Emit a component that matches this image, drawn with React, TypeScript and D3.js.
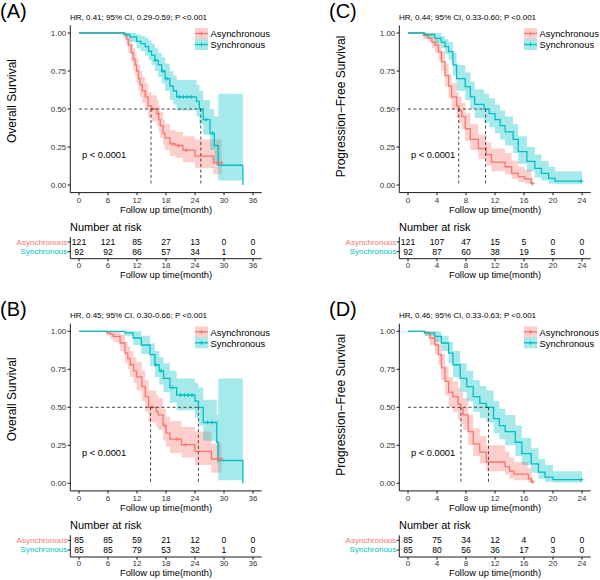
import React from 'react';
import * as d3 from 'd3';

const RED = '#F8766D';
const TEAL = '#00BFC4';
const FONT = "'Liberation Sans', Arial, Helvetica, sans-serif";

const groupNames = ['Asynchronous', 'Synchronous'];

// ---------- Panel A: Overall survival ----------
const aAsyncTime = [0, 9.2, 9.8, 10.2, 10.8, 11.2, 11.6, 11.9, 12.3, 12.6, 13.1, 13.7, 14.3, 15.0, 16.1, 16.5, 16.8, 17.4, 17.8, 18.8, 20.0, 21.5, 24.0, 27.8];
const aAsyncSurv = [1, 0.99, 0.96, 0.92, 0.87, 0.83, 0.79, 0.75, 0.70, 0.66, 0.62, 0.58, 0.52, 0.50, 0.47, 0.43, 0.39, 0.34, 0.31, 0.27, 0.26, 0.23, 0.19, 0.145];
const aAsyncLower = [1, 0.97, 0.92, 0.87, 0.81, 0.76, 0.72, 0.67, 0.62, 0.58, 0.54, 0.50, 0.44, 0.42, 0.39, 0.35, 0.31, 0.26, 0.23, 0.19, 0.18, 0.15, 0.11, 0.07];
const aAsyncUpper = [1, 1, 0.99, 0.97, 0.93, 0.90, 0.87, 0.83, 0.79, 0.75, 0.71, 0.67, 0.61, 0.59, 0.56, 0.52, 0.48, 0.43, 0.40, 0.36, 0.35, 0.32, 0.30, 0.30];
const aAsyncEnd = 29.5;
const aAsyncCensor = [15.3, 16.3, 19.4, 20.6, 22.2, 28.6, 29.5];

const aSyncTime = [0, 9.5, 10.5, 11.9, 12.8, 13.7, 14.4, 15.0, 15.7, 16.4, 17.1, 17.8, 18.8, 19.5, 20.2, 24.3, 24.9, 25.7, 27.1, 28.0, 28.8, 33.9];
const aSyncSurv = [1, 0.99, 0.975, 0.945, 0.93, 0.91, 0.88, 0.855, 0.82, 0.79, 0.75, 0.70, 0.65, 0.62, 0.58, 0.55, 0.50, 0.43, 0.34, 0.26, 0.13, 0];
const aSyncLower = [1, 0.97, 0.94, 0.90, 0.88, 0.85, 0.82, 0.79, 0.75, 0.71, 0.67, 0.62, 0.56, 0.53, 0.49, 0.45, 0.40, 0.33, 0.23, 0.15, 0.03, 0];
const aSyncUpper = [1, 1, 1, 0.99, 0.98, 0.97, 0.95, 0.93, 0.90, 0.87, 0.84, 0.80, 0.75, 0.72, 0.69, 0.66, 0.62, 0.56, 0.50, 0.45, 0.60, 0];
const aSyncEnd = 33.9;
const aSyncCensor = [15.8, 17.3, 18.2, 20.8, 21.6, 22.4, 23.2, 26.3, 27.6];

const aMedians = [14.9, 25.2];
const aRiskAsync = [121, 121, 85, 27, 13, 0, 0];
const aRiskSync = [92, 92, 86, 57, 34, 1, 0];

// ---------- Panel B: Overall survival (matched) ----------
const bAsyncTime = [0, 5.7, 6.5, 7.1, 8.5, 9.5, 10.1, 10.6, 11.3, 11.9, 13.0, 13.7, 14.4, 16.0, 16.4, 17.4, 18.0, 18.8, 21.2, 24.0, 27.4];
const bAsyncSurv = [1, 0.99, 0.98, 0.967, 0.923, 0.857, 0.82, 0.78, 0.74, 0.70, 0.636, 0.57, 0.50, 0.47, 0.45, 0.38, 0.33, 0.29, 0.254, 0.21, 0.16];
const bAsyncLower = [1, 0.97, 0.95, 0.93, 0.87, 0.79, 0.75, 0.70, 0.66, 0.61, 0.54, 0.47, 0.40, 0.37, 0.35, 0.28, 0.24, 0.20, 0.17, 0.12, 0.07];
const bAsyncUpper = [1, 1, 1, 1, 0.98, 0.93, 0.90, 0.87, 0.83, 0.80, 0.74, 0.68, 0.61, 0.58, 0.56, 0.49, 0.44, 0.41, 0.37, 0.34, 0.26];
const bAsyncEnd = 29.5;
const bAsyncCensor = [15.1, 17.8, 20.3, 22.0, 28.8, 29.5];

const bSyncTime = [0, 9.5, 11.2, 12.9, 14.7, 15.7, 16.6, 17.5, 18.8, 20.2, 24.0, 24.7, 25.7, 28.5, 28.8, 33.9];
const bSyncSurv = [1, 0.99, 0.956, 0.91, 0.846, 0.78, 0.74, 0.69, 0.63, 0.58, 0.54, 0.50, 0.40, 0.27, 0.15, 0];
const bSyncLower = [1, 0.97, 0.91, 0.85, 0.77, 0.70, 0.65, 0.60, 0.53, 0.48, 0.43, 0.38, 0.28, 0.13, 0.02, 0];
const bSyncUpper = [1, 1, 1, 0.97, 0.92, 0.87, 0.83, 0.79, 0.74, 0.69, 0.66, 0.63, 0.55, 0.45, 0.69, 0];
const bSyncEnd = 33.9;
const bSyncCensor = [15.9, 17.0, 19.3, 21.0, 21.8, 22.6, 23.4, 26.6, 27.5];

const bMedians = [14.8, 24.7];
const bRiskAsync = [85, 85, 59, 21, 12, 0, 0];
const bRiskSync = [85, 85, 79, 53, 32, 1, 0];

// ---------- Panel C: Progression-free survival ----------
const cAsyncTime = [0, 2.1, 2.8, 3.3, 3.7, 4.2, 4.6, 5.1, 5.6, 6.0, 6.7, 7.0, 7.4, 7.9, 8.6, 9.7, 10.8, 11.5, 13.4, 14.3, 15.2, 16.1, 17.0];
const cAsyncSurv = [1, 0.985, 0.965, 0.94, 0.92, 0.877, 0.81, 0.72, 0.65, 0.58, 0.52, 0.49, 0.45, 0.37, 0.30, 0.24, 0.20, 0.15, 0.12, 0.077, 0.055, 0.04, 0.01];
const cAsyncLower = [1, 0.96, 0.94, 0.90, 0.87, 0.82, 0.75, 0.65, 0.57, 0.50, 0.44, 0.41, 0.37, 0.29, 0.23, 0.17, 0.13, 0.09, 0.07, 0.04, 0.02, 0.01, 0];
const cAsyncUpper = [1, 1, 0.99, 0.98, 0.96, 0.93, 0.88, 0.80, 0.73, 0.67, 0.61, 0.58, 0.54, 0.47, 0.40, 0.33, 0.28, 0.24, 0.21, 0.16, 0.12, 0.10, 0.05];
const cAsyncEnd = 17.2;
const cAsyncCensor = [17.2];

const cSyncTime = [0, 2.3, 3.7, 4.6, 5.1, 5.6, 6.2, 6.7, 7.9, 8.6, 9.2, 10.5, 11.2, 12.0, 12.7, 13.4, 14.5, 15.2, 16.4, 17.5, 18.4, 19.4, 20.3];
const cSyncSurv = [1, 0.99, 0.965, 0.94, 0.91, 0.877, 0.79, 0.70, 0.647, 0.58, 0.53, 0.50, 0.47, 0.43, 0.39, 0.35, 0.30, 0.22, 0.155, 0.11, 0.077, 0.044, 0.026];
const cSyncLower = [1, 0.97, 0.93, 0.90, 0.86, 0.82, 0.72, 0.62, 0.56, 0.50, 0.44, 0.41, 0.38, 0.34, 0.30, 0.26, 0.21, 0.14, 0.09, 0.05, 0.03, 0.01, 0.005];
const cSyncUpper = [1, 1, 1, 0.98, 0.96, 0.94, 0.87, 0.79, 0.74, 0.68, 0.63, 0.60, 0.57, 0.53, 0.49, 0.45, 0.40, 0.32, 0.25, 0.20, 0.16, 0.12, 0.09];
const cSyncEnd = 24.0;
const cSyncCensor = [23.9];

const cMedians = [7.0, 10.7];
const cRiskAsync = [121, 107, 47, 15, 5, 0, 0];
const cRiskSync = [92, 87, 60, 38, 19, 5, 0];

// ---------- Panel D: Progression-free survival (matched) ----------
const dAsyncTime = [0, 2.3, 3.0, 3.7, 4.2, 4.6, 5.1, 5.6, 6.2, 6.9, 7.3, 7.6, 8.3, 9.0, 9.9, 10.8, 13.4, 14.0, 14.6, 16.6, 17.0];
const dAsyncSurv = [1, 0.99, 0.956, 0.91, 0.846, 0.76, 0.67, 0.60, 0.57, 0.52, 0.49, 0.45, 0.34, 0.26, 0.205, 0.14, 0.11, 0.08, 0.06, 0.03, 0.01];
const dAsyncLower = [1, 0.97, 0.91, 0.85, 0.78, 0.68, 0.58, 0.50, 0.47, 0.42, 0.39, 0.35, 0.25, 0.18, 0.13, 0.08, 0.06, 0.03, 0.02, 0.005, 0];
const dAsyncUpper = [1, 1, 0.99, 0.96, 0.92, 0.85, 0.77, 0.70, 0.67, 0.63, 0.60, 0.56, 0.45, 0.36, 0.31, 0.25, 0.21, 0.17, 0.14, 0.10, 0.05];
const dAsyncEnd = 17.2;
const dAsyncCensor = [17.2];

const dSyncTime = [0, 2.3, 3.7, 4.6, 5.6, 6.2, 7.2, 8.1, 9.0, 9.9, 10.8, 11.8, 12.6, 13.4, 14.8, 15.7, 17.0, 18.0, 18.9, 20.0];
const dSyncSurv = [1, 0.99, 0.967, 0.923, 0.857, 0.78, 0.69, 0.636, 0.57, 0.526, 0.50, 0.426, 0.38, 0.34, 0.27, 0.195, 0.128, 0.073, 0.04, 0.024];
const dSyncLower = [1, 0.97, 0.93, 0.87, 0.79, 0.70, 0.60, 0.54, 0.47, 0.43, 0.40, 0.33, 0.29, 0.25, 0.18, 0.12, 0.07, 0.03, 0.01, 0.005];
const dSyncUpper = [1, 1, 1, 0.97, 0.93, 0.87, 0.79, 0.74, 0.68, 0.64, 0.61, 0.54, 0.49, 0.45, 0.38, 0.30, 0.23, 0.16, 0.12, 0.08];
const dSyncEnd = 24.0;
const dSyncCensor = [23.9];

const dMedians = [7.3, 11.1];
const dRiskAsync = [85, 75, 34, 12, 4, 0, 0];
const dRiskSync = [85, 80, 56, 36, 17, 3, 0];

// ---------- axis ticks ----------
const osTicks = [0, 6, 12, 18, 24, 30, 36];
const pfsTicks = [0, 4, 8, 12, 16, 20, 24];
const yTicks = [0, 0.25, 0.5, 0.75, 1];

type Curve = {
  time: number[]; surv: number[]; lower: number[]; upper: number[];
  end: number; censor: number[]; color: string;
};

type PanelDef = {
  ox: number; oy: number; letter: string; hr: string; yTitle: string; yTitleY: number;
  xTicks: number[]; curves: Curve[]; medians: number[]; risk: number[][];
};

const panels: PanelDef[] = [
  {
    ox: 0, oy: 0, letter: '(A)', hr: 'HR, 0.41; 95% CI, 0.29-0.59; P <0.001',
    yTitle: 'Overall Survival', yTitleY: 101, xTicks: osTicks, medians: aMedians,
    risk: [aRiskAsync, aRiskSync],
    curves: [
      { time: aAsyncTime, surv: aAsyncSurv, lower: aAsyncLower, upper: aAsyncUpper, end: aAsyncEnd, censor: aAsyncCensor, color: RED },
      { time: aSyncTime, surv: aSyncSurv, lower: aSyncLower, upper: aSyncUpper, end: aSyncEnd, censor: aSyncCensor, color: TEAL },
    ],
  },
  {
    ox: 0, oy: 298.3, letter: '(B)', hr: 'HR, 0.45; 95% CI, 0.30-0.66; P <0.001',
    yTitle: 'Overall Survival', yTitleY: 101, xTicks: osTicks, medians: bMedians,
    risk: [bRiskAsync, bRiskSync],
    curves: [
      { time: bAsyncTime, surv: bAsyncSurv, lower: bAsyncLower, upper: bAsyncUpper, end: bAsyncEnd, censor: bAsyncCensor, color: RED },
      { time: bSyncTime, surv: bSyncSurv, lower: bSyncLower, upper: bSyncUpper, end: bSyncEnd, censor: bSyncCensor, color: TEAL },
    ],
  },
  {
    ox: 329, oy: 0, letter: '(C)', hr: 'HR, 0.44; 95% CI, 0.33-0.60; P <0.001',
    yTitle: 'Progression\u2212Free Survival', yTitleY: 106.5, xTicks: pfsTicks, medians: cMedians,
    risk: [cRiskAsync, cRiskSync],
    curves: [
      { time: cAsyncTime, surv: cAsyncSurv, lower: cAsyncLower, upper: cAsyncUpper, end: cAsyncEnd, censor: cAsyncCensor, color: RED },
      { time: cSyncTime, surv: cSyncSurv, lower: cSyncLower, upper: cSyncUpper, end: cSyncEnd, censor: cSyncCensor, color: TEAL },
    ],
  },
  {
    ox: 329, oy: 298.3, letter: '(D)', hr: 'HR, 0.46; 95% CI, 0.33-0.63; P <0.001',
    yTitle: 'Progression\u2212Free Survival', yTitleY: 106.5, xTicks: pfsTicks, medians: dMedians,
    risk: [dRiskAsync, dRiskSync],
    curves: [
      { time: dAsyncTime, surv: dAsyncSurv, lower: dAsyncLower, upper: dAsyncUpper, end: dAsyncEnd, censor: dAsyncCensor, color: RED },
      { time: dSyncTime, surv: dSyncSurv, lower: dSyncLower, upper: dSyncUpper, end: dSyncEnd, censor: dSyncCensor, color: TEAL },
    ],
  },
];

// layout (panel-local)
const AX_LEFT = 70.3;
const AX_RIGHT = 261.7;
const AX_TOP = 25.4;
const AX_BOTTOM = 192.6;
const X0 = 79;
const X1 = 253;
const Y0 = 185;
const Y1 = 33;
const RISK_ROWS = [242, 251.7];
const TABLE_AXIS = 258.7;

function Panel({ p }: { p: PanelDef }) {
  const xMax = p.xTicks[p.xTicks.length - 1];
  const x = d3.scaleLinear().domain([0, xMax]).range([X0, X1]);
  const y = d3.scaleLinear().domain([0, 1]).range([Y0, Y1]);

  const lineGen = d3.line<[number, number]>().x(d => x(d[0])).y(d => y(d[1])).curve(d3.curveStepAfter);
  const areaGen = d3.area<[number, number, number]>()
    .x(d => x(d[0])).y0(d => y(d[1])).y1(d => y(d[2])).curve(d3.curveStepAfter);

  const bands = p.curves.map(c => {
    const pts: [number, number, number][] = [];
    c.time.forEach((t, i) => { if (c.surv[i] > 0) pts.push([t, c.lower[i], c.upper[i]]); });
    const last = pts[pts.length - 1];
    pts.push([c.end, last[1], last[2]]);
    return areaGen(pts) || '';
  });
  const lines = p.curves.map(c => {
    const pts: [number, number][] = c.time.map((t, i) => [t, c.surv[i]]);
    const lastS = c.surv[c.surv.length - 1];
    if (lastS > 0) pts.push([c.end, lastS]);
    return lineGen(pts) || '';
  });
  const censorPts = p.curves.map(c => c.censor.map(t => {
    const i = Math.max(0, d3.bisectRight(c.time, t) - 1);
    return [x(t), y(c.surv[i])];
  }));

  const tickFont = 8;
  const textCol = '#333333';
  const colors = [RED, TEAL];

  return (
    <g transform={`translate(${p.ox},${p.oy})`}>
      <text x={0} y={18} fontSize={20} fill="#000">{p.letter}</text>
      <text x={70} y={17} fontSize={8} fill="#000" dominantBaseline="central">{p.hr}</text>
      <text transform={`translate(12,${p.yTitleY}) rotate(-90)`} textAnchor="middle" dominantBaseline="central" fontSize={12} fill="#000">{p.yTitle}</text>

      {/* bands */}
      {bands.map((d, i) => (
        <path key={'b' + i} d={d} fill={p.curves[i].color} fillOpacity={0.35} stroke="none" />
      ))}
      {/* lines */}
      {lines.map((d, i) => (
        <path key={'l' + i} d={d} fill="none" stroke={p.curves[i].color} strokeWidth={1.3} />
      ))}
      {censorPts.map((arr, i) => arr.map((pt, j) => (
        <path key={'c' + i + '_' + j} d={`M${pt[0] - 2},${pt[1]}H${pt[0] + 2}M${pt[0]},${pt[1] - 2}V${pt[1] + 2}`} stroke={p.curves[i].color} strokeWidth={1} />
      )))}

      {/* median lines */}
      <path d={`M${x(0)},${y(0.5)}H${x(d3.max(p.medians) as number)}`} stroke="#333" strokeWidth={0.9} strokeDasharray="3,2.5" fill="none" />
      {p.medians.map((m, i) => (
        <path key={'m' + i} d={`M${x(m)},${y(0.5)}V${y(0)}`} stroke="#333" strokeWidth={0.9} strokeDasharray="3,2.5" fill="none" />
      ))}

      <text x={82} y={155} fontSize={9.3} fill="#000" dominantBaseline="central">p &lt; 0.0001</text>

      {/* legend */}
      {groupNames.map((g, i) => {
        const ky = 28 + i * 11;
        return (
          <g key={'lg' + i}>
            <rect x={195} y={ky} width={13} height={11} fill={colors[i]} fillOpacity={0.35} />
            <path d={`M195,${ky + 5.5}H208`} stroke={colors[i]} strokeWidth={1.3} />
            <path d={`M199.5,${ky + 5.5}H203.5M201.5,${ky + 3.5}V${ky + 7.5}`} stroke={colors[i]} strokeWidth={1} />
            <text x={210.5} y={ky + 5.8} fontSize={9.4} fill="#000" dominantBaseline="central">{g}</text>
          </g>
        );
      })}

      {/* axes */}
      <path d={`M${AX_LEFT},${AX_TOP}V${AX_BOTTOM}H${AX_RIGHT}`} stroke="#000" strokeWidth={0.9} fill="none" />
      {yTicks.map(t => (
        <g key={'yt' + t}>
          <path d={`M${AX_LEFT - 2.7},${y(t)}H${AX_LEFT}`} stroke="#000" strokeWidth={0.9} />
          <text x={AX_LEFT - 4} y={y(t)} fontSize={tickFont} fill={textCol} textAnchor="end" dominantBaseline="central">{d3.format('.2f')(t)}</text>
        </g>
      ))}
      {p.xTicks.map(t => (
        <g key={'xt' + t}>
          <path d={`M${x(t)},${AX_BOTTOM}V${AX_BOTTOM + 2.7}`} stroke="#000" strokeWidth={0.9} />
          <text x={x(t)} y={200.5} fontSize={tickFont} fill={textCol} textAnchor="middle" dominantBaseline="central">{t}</text>
        </g>
      ))}
      <text x={(AX_LEFT + AX_RIGHT) / 2} y={209.5} fontSize={9.3} fill="#000" textAnchor="middle" dominantBaseline="central">Follow up time(month)</text>

      {/* risk table */}
      <text x={70} y={226.7} fontSize={11} fill="#000" dominantBaseline="central">Number at risk</text>
      <path d={`M${AX_LEFT},237V${TABLE_AXIS}H${AX_RIGHT}`} stroke="#000" strokeWidth={0.9} fill="none" />
      {groupNames.map((g, i) => (
        <g key={'rr' + i}>
          <path d={`M${AX_LEFT - 2.7},${RISK_ROWS[i]}H${AX_LEFT}`} stroke="#000" strokeWidth={0.9} />
          <text x={AX_LEFT - 3} y={RISK_ROWS[i]} fontSize={8} fill={colors[i]} textAnchor="end" dominantBaseline="central">{g}</text>
          {p.risk[i].map((n, j) => (
            <text key={'n' + j} x={x(p.xTicks[j])} y={RISK_ROWS[i]} fontSize={8.6} fill="#000" textAnchor="middle" dominantBaseline="central">{n}</text>
          ))}
        </g>
      ))}
      {p.xTicks.map(t => (
        <g key={'tt' + t}>
          <path d={`M${x(t)},${TABLE_AXIS}V${TABLE_AXIS + 2.7}`} stroke="#000" strokeWidth={0.9} />
          <text x={x(t)} y={265.5} fontSize={tickFont} fill={textCol} textAnchor="middle" dominantBaseline="central">{t}</text>
        </g>
      ))}
      <text x={(AX_LEFT + AX_RIGHT) / 2} y={275} fontSize={9.3} fill="#000" textAnchor="middle" dominantBaseline="central">Follow up time(month)</text>
    </g>
  );
}

export default function App() {
  return (
    <svg width={600} height={580} viewBox="0 0 600 580"
      style={{ position: 'absolute', left: 0, top: 0, display: 'block', background: '#fff', fontFamily: FONT }}>
      <rect x={0} y={0} width={600} height={580} fill="#fff" />
      {panels.map((p, i) => <Panel key={i} p={p} />)}
    </svg>
  );
}
